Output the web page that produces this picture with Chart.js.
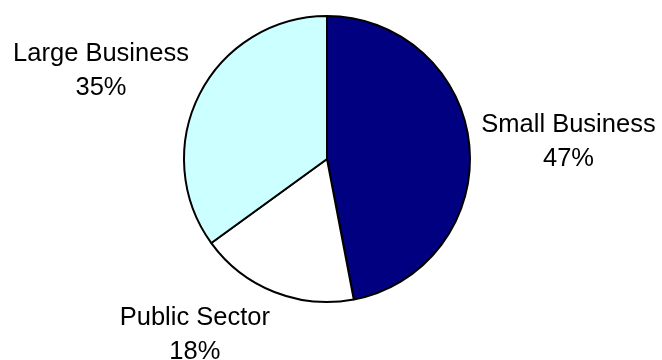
<!DOCTYPE html>
<html>
<head>
<meta charset="utf-8">
<script src="https://cdn.jsdelivr.net/npm/chart.js@4/dist/chart.umd.min.js"></script>
<style>
  html, body { margin: 0; padding: 0; background: #fff; }
  #wrap { width: 662px; height: 360px; position: relative; }
</style>
</head>
<body>
<div id="wrap"><canvas id="pie"></canvas></div>
<script>
const segments = ["Small Business", "Public Sector", "Large Business"];
const shares = [47, 18, 35];
const fills = ["#000080", "#ffffff", "#ccffff"];

const FONT = "'Liberation Sans', Arial, sans-serif";
const FONT_SIZE = 25.5;
const LINE_GAP = 34;   // baseline to baseline
const CAP = 18;        // cap height at that size
const PAD = 5;         // line box room above the caps / below the baseline

// outside labels: name on one line, percentage under it,
// box pushed out from the slice's mid angle so its near edge sits just off the rim
const outsideLabels = {
  id: "outsideLabels",
  afterDatasetsDraw(chart) {
    const ctx = chart.ctx;
    const meta = chart.getDatasetMeta(0);
    const total = shares.reduce((a, b) => a + b, 0);
    ctx.save();
    ctx.font = `${FONT_SIZE}px ${FONT}`;
    ctx.fillStyle = "#000";
    ctx.textAlign = "center";
    ctx.textBaseline = "alphabetic";
    meta.data.forEach((arc, i) => {
      const p = arc.getProps(["x", "y", "startAngle", "endAngle", "outerRadius"], true);
      const mid = (p.startAngle + p.endAngle) / 2;
      const cos = Math.cos(mid), sin = Math.sin(mid);
      const ax = p.x + cos * (p.outerRadius + 12);
      const ay = p.y + sin * (p.outerRadius + 11);
      const name = segments[i];
      const pct = Math.round(shares[i] / total * 100) + "%";
      const w = Math.max(ctx.measureText(name).width, ctx.measureText(pct).width);
      const h = PAD + CAP + LINE_GAP + PAD;
      const clamp = v => Math.max(-1, Math.min(1, v));
      const cx = ax + (w / 2) * clamp(cos * 3);
      const cy = ay + (h / 2) * clamp(sin * 1.4);
      const base = cy - h / 2 + PAD + CAP;
      ctx.fillText(name, cx, base);
      ctx.fillText(pct, cx, base + LINE_GAP);
    });
    ctx.restore();
  }
};

new Chart(document.getElementById("pie"), {
  type: "pie",
  data: {
    labels: segments,
    datasets: [{
      data: shares,
      backgroundColor: fills,
      borderColor: "#000",
      borderWidth: 2,
    }],
  },
  options: {
    responsive: true,
    maintainAspectRatio: false,
    animation: false,
    layout: { padding: { left: 183, right: 191, top: 15, bottom: 57 } },
    plugins: {
      legend: { display: false },
      tooltip: { enabled: false },
    },
  },
  plugins: [outsideLabels],
});
</script>
</body>
</html>
